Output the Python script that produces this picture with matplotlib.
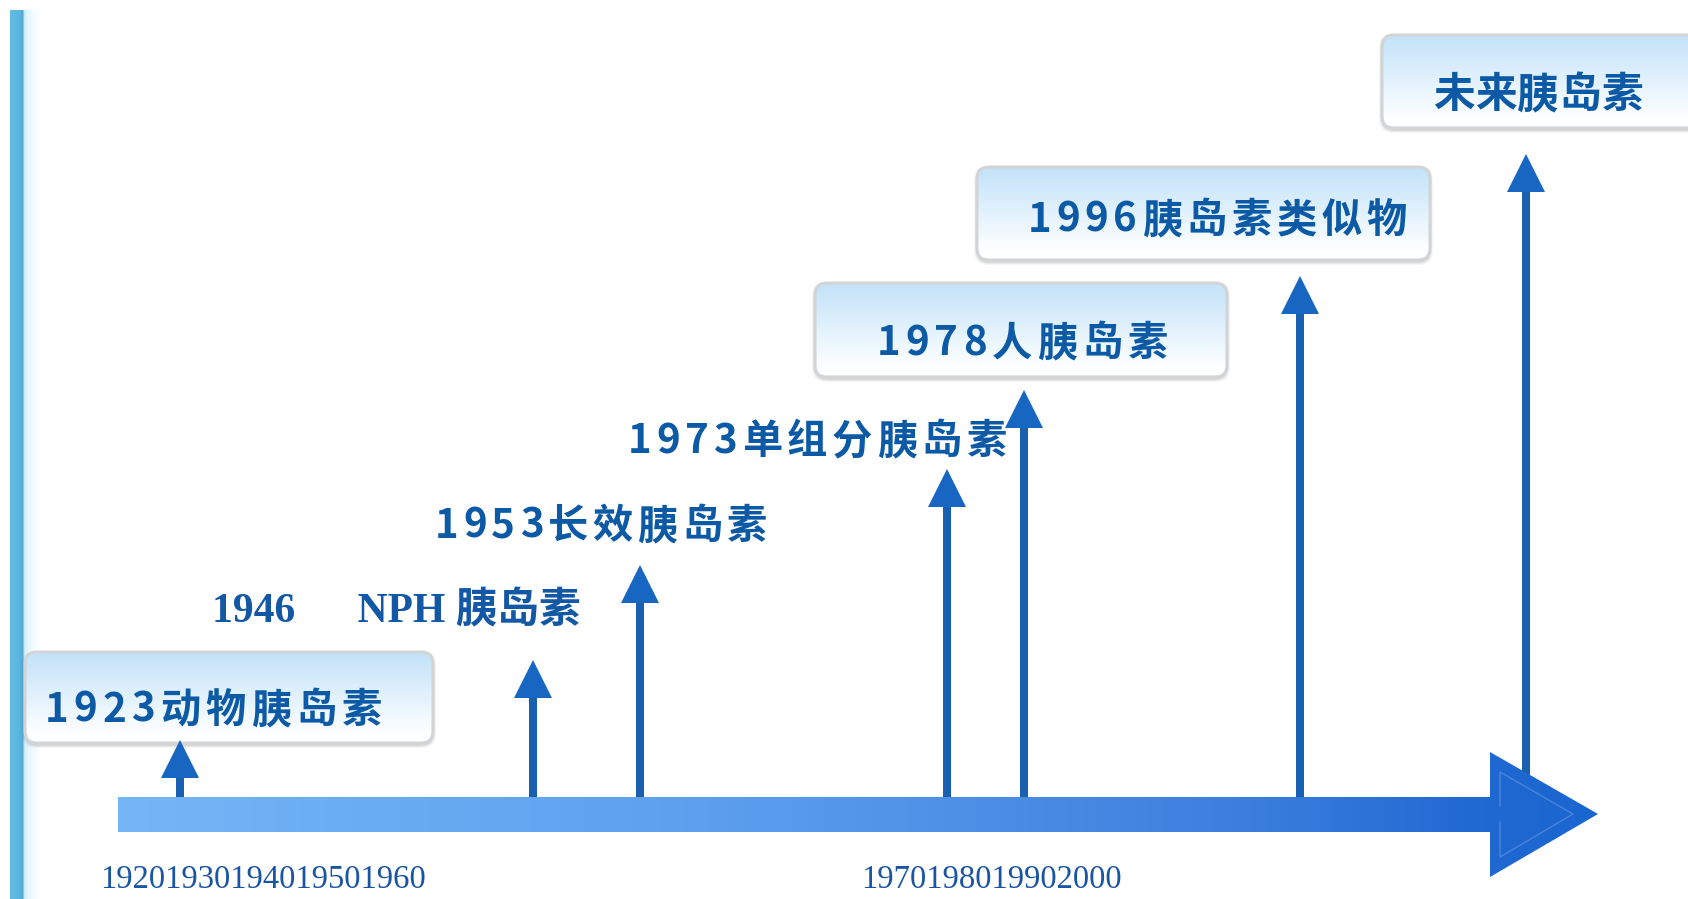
import numpy as np
import matplotlib
matplotlib.use("Agg")
import matplotlib.pyplot as plt
from matplotlib.patches import FancyBboxPatch, Polygon, Rectangle
from matplotlib.colors import LinearSegmentedColormap
from matplotlib.font_manager import FontProperties

# ---- milestones of insulin development ----
event_years = [1923, 1946, 1953, 1973, 1978, 1996]
event_names = ["动物胰岛素", "NPH 胰岛素", "长效胰岛素", "单组分胰岛素", "人胰岛素", "胰岛素类似物"]
future_name = "未来胰岛素"
future_pos = 2010.7                                   # open-ended step on the time scale
arrow_tips = [159, 239, 334, 430, 509, 623, 745]      # height reached by each rising arrow
axis_years_a = [1920, 1930, 1940, 1950, 1960]
axis_years_b = [1970, 1980, 1990, 2000]

W, H, DPI = 1688, 899, 100
fig = plt.figure(figsize=(W / DPI, H / DPI), dpi=DPI)
fig.patch.set_facecolor("white")

# pixel layer: frame, panels and captions
lay = fig.add_axes([0, 0, 1, 1], zorder=0)
lay.set_xlim(0, W); lay.set_ylim(H, 0); lay.axis("off")
# time layer: milestone arrows
ax = fig.add_axes([0, 0, 1, 1], zorder=1)
ax.set_xlim(1911.27, 2021.27); ax.set_ylim(0, H); ax.axis("off")
# pixel layer on top: the main timeline arrow
top = fig.add_axes([0, 0, 1, 1], zorder=2)
top.set_xlim(0, W); top.set_ylim(H, 0); top.axis("off")

renderer = fig.canvas.get_renderer()
LABEL_BLUE = "#0c5aa6"
CJK = ["Noto Sans CJK SC", "DejaVu Sans"]

# ---- left accent bar ----
bar_cmap = LinearSegmentedColormap.from_list(
    "bar", [(0, "#62bce4"), (0.3, "#5ab6e0"), (0.4, "#4ea5d2"), (0.45, "#d6f1ff"), (0.7, "#f2fbff"), (1, "#ffffff")])
lay.imshow(np.linspace(0, 1, 256).reshape(1, -1), cmap=bar_cmap, extent=(10, 42, H, 10),
           aspect="auto", interpolation="bicubic")

# ---- rounded caption panels: light blue at the top fading to white ----
panel_cmap = LinearSegmentedColormap.from_list(
    "panel", [(0, "#c2e2f8"), (0.45, "#dff0fc"), (0.85, "#fafdff"), (1, "#ffffff")])


def panel(l, t, r, b, strips=60):
    for k, a in [(6, 0.035), (4, 0.05), (2, 0.07)]:
        lay.add_patch(FancyBboxPatch((l - k / 2, t - k / 2 + 2), r - l + k, b - t + k,
                                     boxstyle="round,pad=0,rounding_size=14",
                                     fc="#000000", ec="none", alpha=a, zorder=1))
    body = FancyBboxPatch((l, t), r - l, b - t, boxstyle="round,pad=0,rounding_size=12",
                          fc="white", ec="none", zorder=1.5)
    lay.add_patch(body)
    step = (b - t) / strips
    for i in range(strips):
        band = Rectangle((l, t + i * step), r - l, step + 0.6, fc=panel_cmap(i / (strips - 1)),
                         ec="none", lw=0, zorder=2)
        lay.add_patch(band)
        band.set_clip_path(body)
    lay.add_patch(FancyBboxPatch((l, t), r - l, b - t, boxstyle="round,pad=0,rounding_size=12",
                                 fc="none", ec="#d2d4d6", lw=2.2, zorder=2.5))


def tracked(x0, x1, baseline, s, size):
    """Bold caption spread evenly between x0 and x1 (pixel units)."""
    fp = FontProperties(family=CJK, weight="bold", size=size)

    def w(t):
        return renderer.get_text_width_height_descent(t, fp, ismath=False)[0]

    track = (x1 - x0 - w(s)) / (len(s) - 1)
    for i, ch in enumerate(s):
        if ch == " ":
            continue
        off = w(s[: i + 1]) - w(ch)
        lay.text(x0 + off + i * track, baseline, ch, fontproperties=fp,
                 color=LABEL_BLUE, ha="left", va="baseline", zorder=3)


panel_boxes = {1923: (25, 652, 433, 743), 1978: (815, 283, 1227, 377), 1996: (977, 167, 1430, 260)}
caption_spans = {1923: (45, 382, 722), 1953: (435, 767, 538), 1973: (628, 1007, 453),
                 1978: (877, 1168, 355), 1996: (1028, 1407, 232)}

for yr, name in zip(event_years, event_names):
    if yr in panel_boxes:
        panel(*panel_boxes[yr])
    if yr in caption_spans:
        x0, x1, base = caption_spans[yr]
        tracked(x0, x1, base, f"{yr}{name}", 29)

# 1946 caption in a serif face
lay.text(212, 622, f"{event_years[1]}      {event_names[1]}",
         family=["Liberation Serif", "Noto Sans CJK SC"], weight="bold", size=30,
         color="#1358a5", ha="left", va="baseline", zorder=3)

# future panel
panel(1382, 35, 1700, 128)
tracked(1433, 1643, 107, future_name, 30)

# year strip under the timeline
serif = dict(family="Liberation Serif", size=23.5, color="#1a55a3", ha="left", va="baseline")
lay.text(100, 888, "".join(str(y) for y in axis_years_a), **serif)
lay.text(861, 888, "".join(str(y) for y in axis_years_b), **serif)

# ---- rising milestone arrows ----
positions = list(event_years) + [future_pos]
base = 84
head = 38
for x, tip in zip(positions, arrow_tips):
    ax.vlines(x, base, tip - head + 2, color="#1a60b0", lw=8 * 72 / DPI)
    ax.plot([x], [tip - head / 2], marker="^", ms=head * 72 / DPI, color="#1766c2",
            mec="none", mew=0)

# ---- main timeline arrow ----
shape = [(118, 797), (1490, 797), (1490, 752), (1598, 814), (1490, 877), (1490, 832), (118, 832)]
arrow = Polygon(shape, closed=True, fc="none", ec="none")
top.add_patch(arrow)
line_cmap = LinearSegmentedColormap.from_list(
    "line", [(0, "#74b6f6"), (0.4, "#5d9fee"), (0.75, "#3d80de"), (0.925, "#2068d2"), (1, "#1a66d0")])
im = top.imshow(np.linspace(0, 1, 512).reshape(1, -1), cmap=line_cmap,
                extent=(118, 1598, 877, 752), aspect="auto", interpolation="bicubic")
im.set_clip_path(arrow)
inner = [(1500, 806), (1500, 772), (1573, 814), (1500, 857), (1500, 822)]
top.plot([p[0] for p in inner], [p[1] for p in inner], color="white", alpha=0.2, lw=1)

fig.savefig("out.png", dpi=DPI, facecolor="white")
